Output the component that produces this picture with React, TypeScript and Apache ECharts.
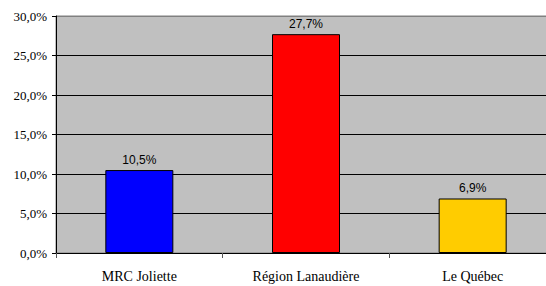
import React, { useEffect, useRef } from "react";
import * as echarts from "echarts";

const categories = ["MRC Joliette", "Région Lanaudière", "Le Québec"];
const values = [10.5, 27.7, 6.9];
const barColors = ["#0000FF", "#FF0000", "#FFCC00"];
const yTicks = { min: 0, max: 30, interval: 5 };

const fmt = (v: number) => v.toFixed(1).replace(".", ",") + "%";

export default function App() {
  const ref = useRef<HTMLDivElement>(null);
  useEffect(() => {
    if (!ref.current) return;
    const chart = echarts.init(ref.current, null, { renderer: "svg" });
    chart.setOption({
      animation: false,
      grid: {
        left: 56,
        top: 16,
        width: 500,
        height: 237,
        outerBoundsMode: "none",
        containLabel: false,
        show: true,
        backgroundColor: "#C0C0C0",
        borderColor: "#808080",
        borderWidth: 1,
      },
      xAxis: {
        type: "category",
        data: categories,
        boundaryGap: true,
        axisLine: { show: true, lineStyle: { color: "#000", width: 1 } },
        axisTick: { show: true, alignWithLabel: false, length: 5, lineStyle: { color: "#555" } },
        axisLabel: {
          color: "#000",
          fontFamily: "'Liberation Serif', serif",
          fontSize: 14,
          margin: 16,
        },
      },
      yAxis: {
        type: "value",
        min: yTicks.min,
        max: yTicks.max,
        interval: yTicks.interval,
        axisLine: { show: true, lineStyle: { color: "#000", width: 1 } },
        axisTick: { show: true, length: 4, lineStyle: { color: "#000" } },
        axisLabel: {
          color: "#000",
          fontFamily: "'Liberation Serif', serif",
          fontSize: 13,
          margin: 9,
          formatter: (v: number) => fmt(v),
        },
        splitLine: {
          show: true,
          lineStyle: {
            color: ["#000", "#000", "#000", "#000", "#000", "#000", "#808080"],
            width: 1,
          },
        },
      },
      series: [
        {
          type: "bar",
          barWidth: 68,
          data: values.map((v, i) => ({
            value: v,
            itemStyle: { color: barColors[i], borderColor: "#000", borderWidth: 1 },
          })),
          label: {
            show: true,
            position: "top",
            distance: 4,
            color: "#000",
            fontFamily: "'Liberation Sans', sans-serif",
            fontSize: 12,
            formatter: (p: any) => fmt(p.value),
          },
        },
      ],
    });
    return () => chart.dispose();
  }, []);
  return (
    <div
      ref={ref}
      style={{ position: "fixed", left: 0, top: 0, width: 546, height: 286, background: "#fff" }}
    />
  );
}
